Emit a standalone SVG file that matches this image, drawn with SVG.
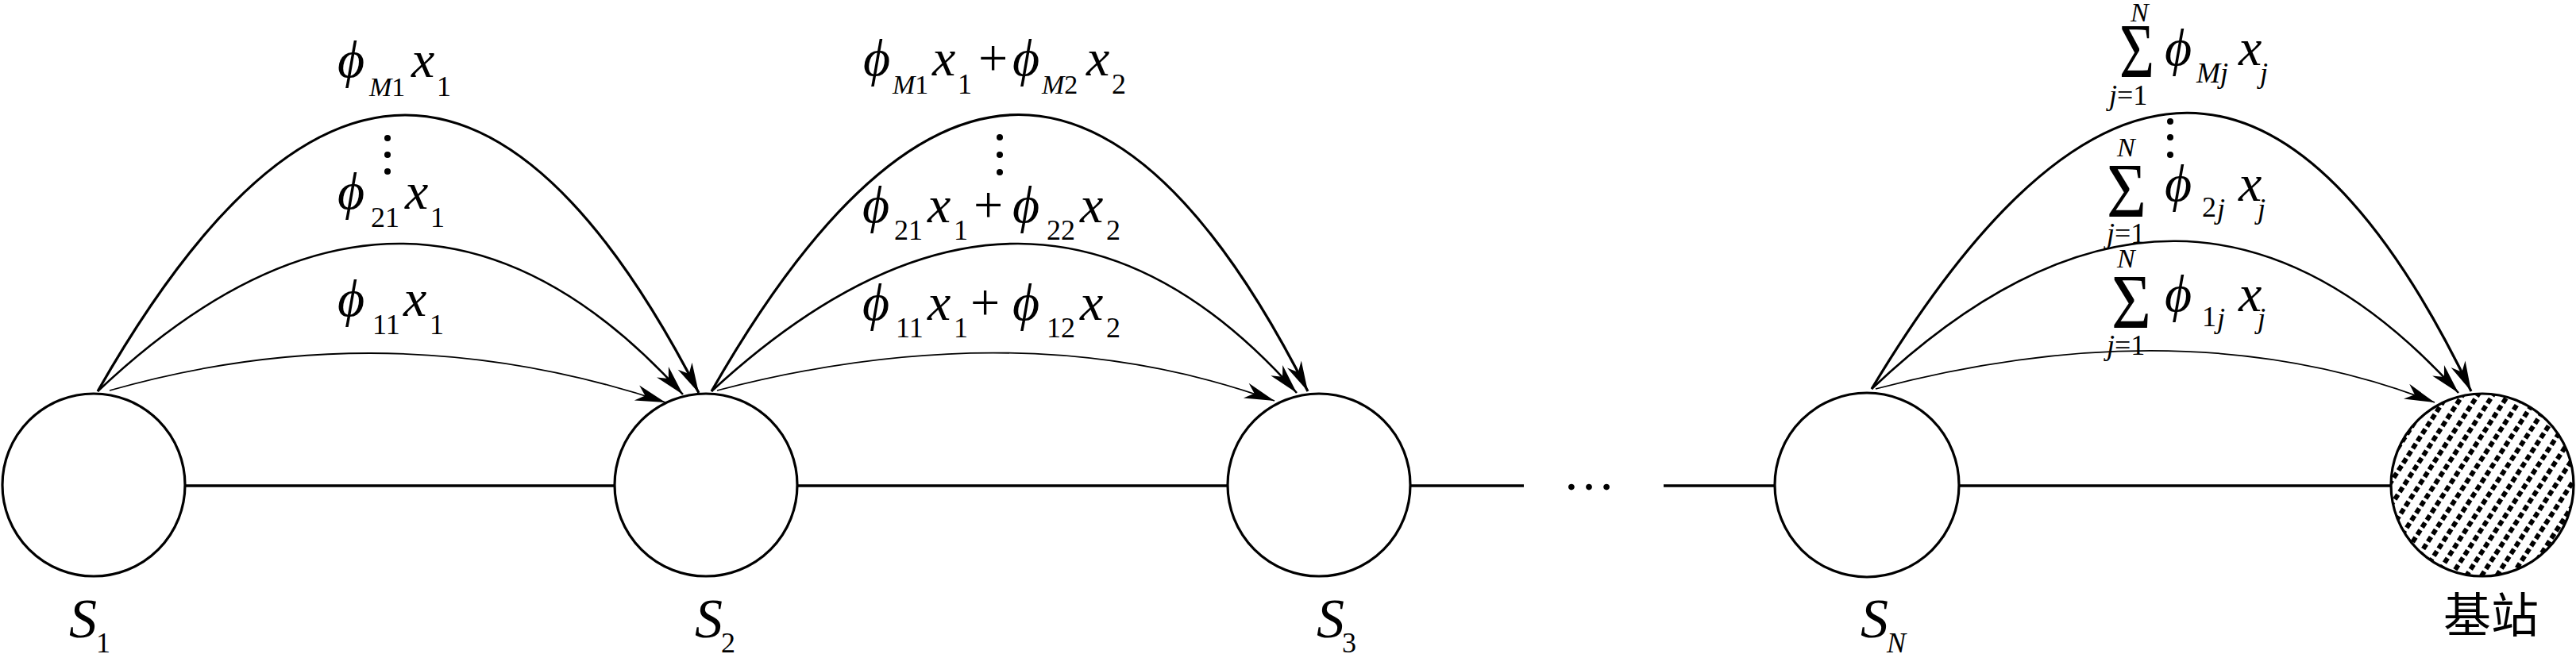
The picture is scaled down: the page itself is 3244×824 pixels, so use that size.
<svg xmlns="http://www.w3.org/2000/svg" width="3244" height="824" viewBox="0 0 3244 824">
<style>
.node{fill:#fff;stroke:#000;stroke-width:3.2}
.link{stroke:#000;stroke-width:3.4;fill:none}
.a1{stroke:#000;stroke-width:3.2;fill:none}
.a2{stroke:#000;stroke-width:2.6;fill:none}
.a3{stroke:#000;stroke-width:1.8;fill:none}
text{font-family:"Liberation Serif","DejaVu Serif",serif;fill:#000}
.m{font-size:66px}
.i{font-style:italic}
.s{font-size:36px}
.sm{font-size:34px}
.big{font-size:70px}
.sig{font-size:98px}
.cjk{font-family:"Liberation Serif","Noto Sans CJK SC",sans-serif;font-size:60px}
</style>
<defs>
<marker id="arr" viewBox="-40 -12 42 24" markerWidth="42" markerHeight="24" refX="0" refY="0" orient="auto" markerUnits="userSpaceOnUse">
<path d="M0,0 L-38,-10 L-27,0 L-38,10 Z" fill="#000"/>
</marker>
<pattern id="hatch" patternUnits="userSpaceOnUse" width="16" height="11" patternTransform="rotate(33)">
<line x1="8" y1="0" x2="8" y2="11" stroke="#000" stroke-width="6" stroke-dasharray="7 4"/>
</pattern>
</defs>
<rect width="3244" height="824" fill="#fff"/>

<g id="connectors">
<line class="link" x1="233" y1="612" x2="774" y2="612"/>
<line class="link" x1="1004" y1="612" x2="1546" y2="612"/>
<line class="link" x1="1776" y1="612" x2="1919" y2="612"/>
<line class="link" x1="2095" y1="612" x2="2235" y2="612"/>
<line class="link" x1="2467" y1="612" x2="3011" y2="612"/>
<text class="m" x="2001" y="617" text-anchor="middle" font-size="60">…</text>

<path class="a1" d="M123,493 Q520,-204 880,495" marker-end="url(#arr)"/>
<path class="a2" d="M123,493 Q518,119 860,497" marker-end="url(#arr)"/>
<path class="a3" d="M138,492 Q492,391 838,507" marker-end="url(#arr)"/>

<path class="a1" d="M896,493 Q1294,-204 1647,493" marker-end="url(#arr)"/>
<path class="a2" d="M896,493 Q1300,120 1633,495" marker-end="url(#arr)"/>
<path class="a3" d="M903,492 Q1290,391 1605,505" marker-end="url(#arr)"/>

<path class="a1" d="M2357,490 Q2775,-207 3112,493" marker-end="url(#arr)"/>
<path class="a2" d="M2357,490 Q2753,115 3096,495" marker-end="url(#arr)"/>
<path class="a3" d="M2362,490 Q2756,386 3066,507" marker-end="url(#arr)"/>
</g>

<g id="edge-labels">
<text class="m"><tspan class="i" x="425" y="97">ϕ</tspan><tspan class="sm i" x="465" y="121">M</tspan><tspan class="sm">1</tspan><tspan class="i" x="518" y="97">x</tspan><tspan class="s" x="550" y="121">1</tspan></text>
<circle cx="488" cy="174" r="4"/><circle cx="488" cy="195" r="4"/><circle cx="488" cy="216" r="4"/>
<text class="m"><tspan class="i" x="425" y="263">ϕ</tspan><tspan class="s" x="467" y="286">21</tspan><tspan class="i" x="510" y="263">x</tspan><tspan class="s" x="542" y="286">1</tspan></text>
<text class="m"><tspan class="i" x="425" y="398">ϕ</tspan><tspan class="s" x="469" y="421">11</tspan><tspan class="i" x="508" y="398">x</tspan><tspan class="s" x="541" y="421">1</tspan></text>

<text class="m"><tspan class="i" x="1087" y="95">ϕ</tspan><tspan class="sm i" x="1124" y="118">M</tspan><tspan class="sm">1</tspan><tspan class="i" x="1174" y="95">x</tspan><tspan class="s" x="1206" y="118">1</tspan><tspan x="1232" y="95">+</tspan><tspan class="i" x="1275" y="95">ϕ</tspan><tspan class="sm i" x="1312" y="118">M</tspan><tspan class="sm">2</tspan><tspan class="i" x="1368" y="95">x</tspan><tspan class="s" x="1400" y="118">2</tspan></text>
<circle cx="1259" cy="173" r="4"/><circle cx="1259" cy="195" r="4"/><circle cx="1259" cy="217" r="4"/>
<text class="m"><tspan class="i" x="1086" y="280">ϕ</tspan><tspan class="s" x="1126" y="302">21</tspan><tspan class="i" x="1168" y="280">x</tspan><tspan class="s" x="1201" y="302">1</tspan><tspan x="1226" y="280">+</tspan><tspan class="i" x="1275" y="280">ϕ</tspan><tspan class="s" x="1318" y="302">22</tspan><tspan class="i" x="1360" y="280">x</tspan><tspan class="s" x="1393" y="302">2</tspan></text>
<text class="m"><tspan class="i" x="1086" y="403">ϕ</tspan><tspan class="s" x="1128" y="425">11</tspan><tspan class="i" x="1168" y="403">x</tspan><tspan class="s" x="1201" y="425">1</tspan><tspan x="1222" y="403">+</tspan><tspan class="i" x="1275" y="403">ϕ</tspan><tspan class="s" x="1318" y="425">12</tspan><tspan class="i" x="1360" y="403">x</tspan><tspan class="s" x="1393" y="425">2</tspan></text>

<text class="sm i" x="2683" y="27">N</text>
<text class="sig" x="2669" y="97" textLength="44" lengthAdjust="spacingAndGlyphs">Σ</text>
<text class="s" x="2656" y="132"><tspan class="i">j</tspan>=1</text>
<text class="m"><tspan class="i" x="2726" y="82">ϕ</tspan><tspan class="s i" x="2766" y="104">Mj</tspan><tspan class="i" x="2819" y="82">x</tspan><tspan class="s i" x="2846" y="104">j</tspan></text>
<circle cx="2733" cy="153" r="4"/><circle cx="2733" cy="173" r="4"/><circle cx="2733" cy="195" r="4"/>
<text class="sm i" x="2666" y="197">N</text>
<text class="sig" x="2653" y="273" textLength="50" lengthAdjust="spacingAndGlyphs">Σ</text>
<text class="s" x="2653" y="306"><tspan class="i">j</tspan>=1</text>
<text class="m"><tspan class="i" x="2726" y="253">ϕ</tspan><tspan class="s" x="2773" y="273">2</tspan><tspan class="s i" x="2792" y="275">j</tspan><tspan class="i" x="2819" y="253">x</tspan><tspan class="s i" x="2843" y="275">j</tspan></text>
<text class="sm i" x="2666" y="337">N</text>
<text class="sig" x="2659" y="413" textLength="50" lengthAdjust="spacingAndGlyphs">Σ</text>
<text class="s" x="2653" y="447"><tspan class="i">j</tspan>=1</text>
<text class="m"><tspan class="i" x="2726" y="392">ϕ</tspan><tspan class="s" x="2773" y="411">1</tspan><tspan class="s i" x="2792" y="413">j</tspan><tspan class="i" x="2819" y="392">x</tspan><tspan class="s i" x="2843" y="413">j</tspan></text>
</g>

<g id="node-s1">
<circle class="node" cx="118" cy="611" r="115"/>
<text class="big"><tspan class="i" x="87" y="803">S</tspan><tspan class="s" x="121" y="822">1</tspan></text>
</g>
<g id="node-s2">
<circle class="node" cx="889" cy="611" r="115"/>
<text class="big"><tspan class="i" x="875" y="803">S</tspan><tspan class="s" x="908" y="822">2</tspan></text>
</g>
<g id="node-s3">
<circle class="node" cx="1661" cy="611" r="115"/>
<text class="big"><tspan class="i" x="1658" y="803">S</tspan><tspan class="s" x="1690" y="822">3</tspan></text>
</g>
<g id="node-sn">
<circle class="node" cx="2351" cy="611" r="116"/>
<text class="big"><tspan class="i" x="2343" y="803">S</tspan><tspan class="s i" x="2376" y="822">N</tspan></text>
</g>
<g id="node-bs">
<circle cx="3126" cy="611" r="115" fill="#fff"/>
<circle class="node" cx="3126" cy="611" r="115" style="fill:url(#hatch)"/>
<text class="cjk" x="3077" y="797">基站</text>
</g>
</svg>
